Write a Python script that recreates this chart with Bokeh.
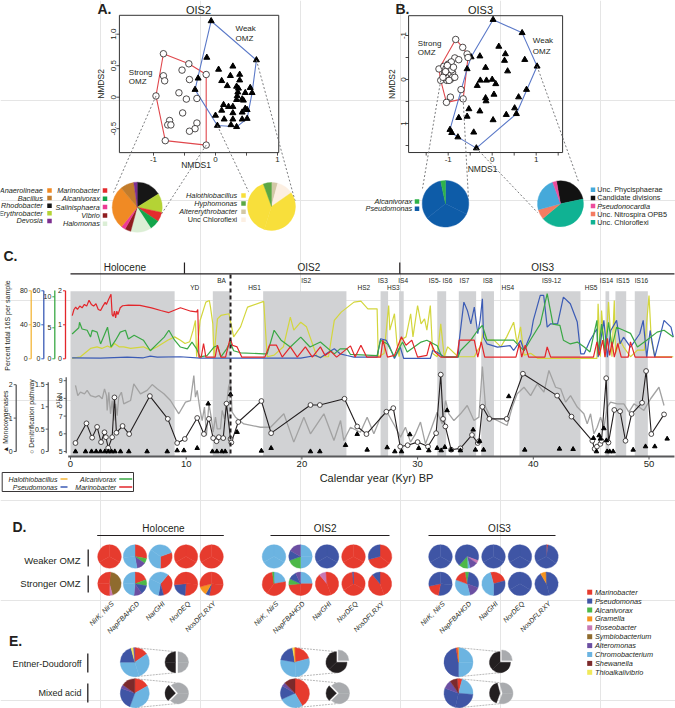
import math
from bokeh.plotting import figure
from bokeh.models import Range1d
from bokeh.core.properties import value
from bokeh.embed import file_html
from bokeh.resources import INLINE

# ===================== DATA =====================
# ---- Panel A: NMDS of OIS2 samples ----
A_strong_nmds1 = [-0.84, -0.43, -0.54, -0.15, -0.84, -0.82, -0.42, -0.96, -0.59, -0.47,
                  -0.30, -0.53, -0.74, -0.77, -0.72, -0.30, -0.33, -0.42, -0.81, -0.15]
A_strong_nmds2 = [0.69, 0.53, 0.43, 0.36, 0.34, 0.26, 0.28, 0.02, 0.07, -0.03,
                  -0.02, -0.25, -0.37, -0.44, -0.44, -0.41, -0.50, -0.54, -0.69, -0.76]
A_weak_nmds1 = [-0.07, 0.66, -0.14, 0.28, 0.05, 0.24, 0.39, -0.28, 0.10, 0.39,
                0.19, 0.34, -0.33, 0.56, 0.37, 0.36, 0.48, 0.59, 0.35, 0.43,
                0.34, 0.45, 0.13, 0.21, 0.10, 0.28, 0.48, 0.43, 0.28, 0.51,
                0.00, 0.14, 0.28, 0.43, 0.51, 0.03, 0.25, 0.34]
A_weak_nmds2 = [1.21, 0.59, 0.63, 0.49, 0.44, 0.34, 0.36, 0.30, 0.26, 0.27,
                0.18, 0.17, 0.12, 0.15, 0.14, 0.08, 0.07, 0.07, 0.02, -0.03,
                -0.04, -0.05, -0.12, -0.15, -0.21, -0.15, -0.18, -0.24, -0.25, -0.20,
                -0.29, -0.35, -0.35, -0.35, -0.34, -0.45, -0.44, -0.47]
A_pie_strong = [("Rhodobacter", 58), ("Erythrobacter", 44), ("Marinobacter", 22), ("Alcanivorax", 23),
                ("Halomonas", 48), ("Vibrio", 14), ("Salinisphaera", 10), ("Anaerolineae", 101),
                ("Bacillus", 32), ("Devosia", 8)]
A_pie_weak = [("Altererythrobacter", 15), ("Unc Chloroflexi", 40), ("Halothiobacillus", 285), ("Hyphomonas", 20)]
A_legend_left1 = ["Anaerolineae", "Bacillus", "Rhodobacter", "Erythrobacter", "Devosia"]
A_legend_left2 = ["Marinobacter", "Alcanivorax", "Salinisphaera", "Vibrio", "Halomonas"]
A_legend_right = ["Halothiobacillus", "Hyphomonas", "Altererythrobacter", "Unc Chloroflexi"]

# ---- Panel B: NMDS of OIS3 samples ----
B_strong_nmds1 = [-0.83, -0.67, -0.57, -0.85, -0.76, -0.55, -1.21, -1.17, -1.03, -0.71, -0.66, -0.95, -1.04,
                  -1.10, -1.05, -1.00, -0.95, -0.90, -1.00, -1.05, -0.95, -0.90, -1.00, -0.93, -1.08,
                  -0.98, -0.85, -1.12, -1.00, -0.92, -1.02, -0.88, -1.06]
B_strong_nmds2 = [-0.91, -0.73, -0.58, -0.49, -0.45, -0.50, -0.24, 0.02, 0.02, 0.23, 0.44, 0.40, 0.52,
                  -0.30, -0.25, -0.20, -0.30, -0.15, -0.10, -0.05, 0.00, -0.05, -0.35, -0.40, -0.15,
                  0.02, -0.05, -0.05, -0.25, -0.22, -0.32, -0.28, -0.18]
B_weak_nmds1 = [0.02, 0.68, 1.02, 0.74, 0.15, 0.30, 0.28, 0.35, -0.28, -0.48,
                -0.15, -0.57, -0.27, -0.13, 0.00, -0.34, 0.08, 0.04, -0.15, -0.14,
                0.60, 0.78, -0.53, -0.28, 0.51, 0.55, -0.57, -0.76, 0.32, 0.02,
                -0.96, -0.92, -0.42, -0.78, -0.36]
B_weak_nmds2 = [-1.36, -1.06, -0.30, -0.45, -0.75, -0.58, -0.43, -0.19, -0.53, -0.51,
                -0.27, -0.24, 0.02, 0.02, 0.00, 0.14, 0.10, 0.34, 0.42, 0.49,
                0.40, 0.23, 0.67, 0.72, 0.65, 0.78, 0.84, 0.87, 0.80, 0.92,
                1.14, 1.21, 1.20, 1.31, 1.56]
B_pie_strong = [("Pseudomonas", 348), ("Alcanivorax", 12)]
B_pie_weak = [("Candidate divisions", 88), ("Unc. Chloroflexi", 152), ("Unc. Nitrospira OPB5", 25),
              ("Unc. Phycisphaerae", 85), ("Pseudonocardia", 10)]
B_legend_left = ["Alcanivorax", "Pseudomonas"]
B_legend_right = ["Unc. Phycisphaerae", "Candidate divisions", "Pseudonocardia", "Unc. Nitrospira OPB5", "Unc. Chloroflexi"]

# ---- Panel C: down-core time series (kyr BP, % of 16S) ----
halothiobacillus = [(0.14, 0.4), (0.86, 2.4), (1.73, 12.2), (2.3, 14.1), (2.7, 12.2), (3.2, 15.0), (3.5, 13.0),
    (3.8, 18.0), (4.2, 14.1), (4.6, 14.1), (5.2, 12.2), (6.3, 14.1), (6.9, 10.2), (7.5, 14.1), (8.4, 21.9),
    (9.0, 25.8), (9.5, 21.9), (9.9, 18.0), (10.3, 20.0), (10.6, 33.7), (10.8, 45.1), (10.9, 2.4), (11.2, 45.1),
    (11.7, 66.7), (12.0, 68.6), (12.1, 60.8), (12.3, 41.1), (12.4, 2.4), (12.7, 47.0), (13.0, 51.0), (13.7, 53.0),
    (14.1, 25.8), (14.7, 37.6), (15.3, 60.8), (16.7, 67.5), (17.0, 2.4), (17.6, 4.3), (18.4, 14.1), (19.0, 49.0),
    (19.3, 33.7), (19.9, 43.1), (20.4, 37.6), (21.3, 2.4), (22.3, 2.4), (22.8, 45.1), (23.4, 54.9), (24.5, 66.7),
    (25.1, 67.9), (25.7, 58.8), (26.5, 58.8), (26.6, 2.4), (27.1, 6.3), (27.5, 62.7), (27.6, 33.7), (28.0, 53.0),
    (28.2, 20.0), (28.4, 2.4), (28.5, 21.9), (29.0, 25.8), (29.4, 53.0), (29.6, 25.8), (30.0, 62.7), (30.3, 41.1),
    (30.6, 47.0), (30.8, 33.7), (31.1, 62.7), (31.3, 6.3), (31.7, 2.4), (32.0, 41.1), (32.3, 2.4), (32.6, 14.1),
    (33.5, 2.4), (34.9, 2.4), (35.2, 10.2), (35.4, 14.1), (35.7, 31.7), (36.0, 21.9), (36.6, 21.9), (37.2, 14.1),
    (37.7, 25.8), (38.3, 43.1), (38.6, 18.0), (38.9, 37.6), (39.2, 4.3), (39.8, 6.3), (40.4, 0.4), (45.5, 0.4),
    (45.6, 64.7), (45.8, 2.4), (45.9, 56.9), (46.2, 2.4), (46.5, 66.7), (46.8, 2.4), (47.0, 68.6), (47.1, 6.3),
    (47.5, 21.9), (47.8, 14.1), (48.4, 2.4), (49.0, 10.2), (49.6, 10.2), (50.0, 74.5), (50.2, 21.9), (50.5, 2.4),
    (52.1, 2.4)]
pseudomonas = [(0.14, 0.9), (2.6, 0.6), (4.9, 1.5), (6.3, 0.9), (6.9, 2.3), (7.5, 1.5), (9.5, 1.8), (11.2, 0.6),
    (14.1, 0.6), (17.0, 0.6), (19.9, 0.6), (21.2, 2.9), (21.6, 0.9), (22.3, 5.8), (22.8, 8.8), (23.3, 4.4),
    (23.9, 2.9), (24.5, 1.5), (26.5, 1.5), (26.8, 17.7), (27.3, 16.2), (27.6, 10.3), (28.0, 0.3), (28.5, 10.3),
    (28.8, 0.3), (31.1, 0.3), (31.3, 7.3), (31.7, 5.8), (32.3, 1.5), (33.5, 1.5), (33.6, 16.2), (34.0, 50.0),
    (34.3, 42.7), (34.6, 30.9), (34.9, 45.6), (35.2, 22.1), (35.4, 33.9), (35.6, 53.0), (35.7, 19.1), (36.0, 13.2),
    (36.9, 10.3), (38.0, 11.7), (38.3, 7.3), (38.9, 16.2), (39.2, 7.3), (39.8, 22.1), (40.0, 33.9), (40.6, 55.9),
    (40.9, 55.9), (41.2, 28.0), (41.5, 30.9), (42.1, 30.9), (42.6, 54.4), (43.2, 48.6), (43.8, 32.4), (44.1, 4.4),
    (44.4, 4.4), (44.9, 16.2), (45.5, 26.5), (45.6, 1.5), (46.1, 33.9), (46.4, 1.5), (46.7, 25.0), (47.2, 33.9),
    (47.5, 13.2), (47.8, 19.1), (48.4, 10.3), (49.2, 22.1), (49.5, 33.9), (49.8, 1.5), (50.1, 25.0), (50.5, 1.5),
    (51.3, 33.9), (51.9, 28.0), (52.1, 19.1)]
alcanivorax = [(0.14, 4.0), (0.72, 5.0), (0.78, 5.9), (1.0, 4.8), (1.44, 4.6), (1.73, 3.5), (1.87, 4.6), (2.3, 4.3),
    (2.6, 2.4), (3.2, 5.1), (3.5, 1.9), (3.9, 3.0), (4.3, 4.3), (4.75, 4.6), (5.0, 3.2), (5.5, 3.8), (6.3, 3.0),
    (6.9, 1.3), (7.5, 2.4), (8.1, 3.5), (8.5, 4.6), (9.0, 3.0), (9.5, 1.9), (10.1, 1.6), (10.5, 2.7), (10.9, 1.6),
    (11.2, 0.3), (11.8, 0.5), (12.4, 1.9), (12.7, 2.1), (13.0, 0.3), (13.5, 1.6), (13.8, 2.7), (14.1, 1.3),
    (14.7, 0.97), (16.7, 0.8), (17.0, 0.8), (17.6, 4.6), (18.2, 3.0), (19.0, 1.9), (19.9, 3.5), (20.7, 1.9),
    (21.6, 2.7), (22.8, 0.8), (23.3, 1.6), (23.9, 1.6), (24.2, 0.7), (26.5, 0.5), (26.8, 3.0), (27.4, 2.4),
    (28.0, 0.3), (28.7, 2.7), (29.1, 1.1), (29.7, 1.9), (30.3, 2.7), (30.8, 3.0), (31.7, 2.1), (32.1, 0.3),
    (33.5, 0.3), (33.7, 1.3), (34.6, 3.0), (35.2, 4.6), (35.6, 5.4), (36.0, 3.0), (36.6, 3.0), (38.3, 3.0),
    (38.6, 2.4), (39.2, 1.3), (39.8, 3.2), (40.6, 5.6), (41.2, 10.5), (41.7, 5.6), (42.3, 5.4), (42.6, 3.0),
    (43.2, 2.4), (43.8, 2.7), (44.4, 1.9), (44.9, 1.1), (45.5, 6.2), (45.6, 0.8), (45.9, 5.6), (46.2, 1.3),
    (46.5, 5.9), (46.8, 1.9), (47.2, 5.1), (47.8, 4.6), (48.4, 4.1), (49.0, 1.9), (49.8, 3.0), (50.7, 4.3),
    (51.3, 4.6), (52.1, 3.5)]
marinobacter = [(0.15, 1.27), (0.3, 1.45), (0.45, 1.52), (0.6, 1.45), (0.8, 1.55), (1.0, 1.5), (1.2, 1.6),
    (1.4, 1.55), (1.6, 1.72), (1.8, 1.6), (2.0, 1.55), (2.2, 1.62), (2.4, 1.45), (2.6, 1.42), (2.8, 1.55),
    (3.0, 1.66), (3.1, 1.6), (3.3, 1.75), (3.5, 1.9), (3.6, 1.3), (3.7, 1.25), (3.8, 1.4), (3.9, 1.2), (4.0, 1.4),
    (4.1, 1.3), (4.3, 1.5), (4.5, 1.56), (5.0, 1.58), (6.0, 1.57), (7.0, 1.5), (7.8, 1.42), (8.5, 1.36),
    (9.5, 1.5), (10.4, 1.4), (10.9, 1.38), (11.0, 1.45), (11.1, 0.05), (11.3, 0.05), (11.5, 0.45), (11.7, 0.05),
    (12.2, 0.05), (12.5, 0.05), (12.7, 0.4), (13.0, 0.05), (13.4, 0.05), (13.8, 0.6), (14.0, 0.4), (14.4, 0.35),
    (14.8, 0.05), (16.8, 0.05), (17.2, 0.4), (17.8, 0.4), (18.3, 0.05), (19.0, 0.35), (19.6, 0.05), (20.3, 0.35),
    (20.9, 0.05), (21.6, 0.35), (22.0, 0.1), (22.5, 0.22), (23.0, 0.05), (24.2, 0.38), (24.6, 0.05), (25.1, 0.4),
    (25.6, 0.05), (26.8, 0.05), (27.0, 0.55), (27.4, 0.05), (28.0, 0.1), (28.6, 0.65), (29.0, 0.4), (29.5, 0.55),
    (30.0, 0.05), (30.8, 0.1), (31.1, 0.5), (31.5, 0.2), (32.0, 0.05), (33.4, 0.05), (33.6, 0.55), (34.9, 0.55),
    (35.2, 0.05), (35.5, 0.5), (35.8, 0.05), (36.3, 0.05), (38.5, 0.05), (38.8, 0.45), (39.0, 0.05), (39.3, 0.4),
    (39.6, 0.05), (41.0, 0.05), (41.2, 0.35), (41.5, 0.05), (45.2, 0.05), (45.5, 0.5), (45.7, 0.1), (46.0, 0.55),
    (46.2, 0.05), (46.4, 0.6), (46.6, 0.1), (46.8, 0.5), (47.0, 0.05), (47.3, 0.45), (47.6, 0.05), (48.2, 0.05),
    (48.4, 0.5), (48.8, 0.05), (52.0, 0.05)]
delta15n = [(0.43, 8.73), (0.63, 8.16), (0.86, 8.35), (1.21, 8.26), (1.44, 8.45), (1.73, 8.16), (2.16, 8.07),
    (2.45, 8.16), (2.74, 7.98), (2.94, 8.54), (3.11, 8.16), (3.17, 7.32), (3.31, 8.35), (3.46, 7.13), (3.6, 7.88),
    (3.75, 6.75), (3.9, 7.69), (4.03, 7.03), (4.17, 8.07), (4.4, 8.35), (4.6, 7.69), (4.9, 7.79), (5.19, 7.88),
    (5.47, 8.82), (6.05, 8.26), (6.62, 8.45), (7.06, 8.78), (7.49, 8.54), (8.07, 8.26), (8.64, 7.88), (9.36, 7.13),
    (9.94, 7.79), (10.37, 7.88), (10.66, 9.29), (10.8, 8.07), (10.95, 8.45), (11.18, 7.41), (11.38, 6.75),
    (11.58, 7.51), (11.75, 5.9), (11.96, 7.69), (12.16, 6.94), (12.33, 6.09), (12.53, 6.94), (12.68, 6.28),
    (12.96, 6.28), (13.11, 7.32), (13.31, 6.84), (13.48, 7.6), (13.66, 8.63), (13.83, 9.01), (13.97, 7.22),
    (14.26, 6.94), (14.98, 6.56), (16.42, 6.37), (17.29, 6.37), (18.44, 7.13), (19.3, 5.53), (20.17, 6.94),
    (20.74, 6.0), (21.9, 7.13), (22.77, 5.62), (23.34, 6.75), (23.62, 5.62), (24.2, 6.37), (25.06, 6.09),
    (25.64, 6.94), (26.22, 6.0), (26.8, 6.94), (27.37, 7.22), (28.09, 6.37), (28.52, 5.81), (28.95, 6.37),
    (29.39, 5.53), (29.82, 6.0), (30.25, 6.66), (30.68, 5.43), (31.12, 6.19), (31.69, 7.22), (32.13, 6.56),
    (32.42, 7.88), (32.7, 7.13), (33.14, 6.75), (33.71, 7.13), (34.29, 7.6), (34.87, 6.75), (35.3, 6.94),
    (35.6, 9.8), (35.87, 7.51), (36.3, 6.94), (36.88, 6.75), (37.74, 6.47), (38.18, 7.51), (38.61, 8.26),
    (39.19, 8.63), (39.77, 8.16), (40.34, 8.82), (40.92, 8.35), (41.35, 9.58), (41.93, 8.63), (42.36, 8.54),
    (42.79, 7.79), (43.22, 8.16), (43.8, 7.51), (44.37, 7.13), (44.66, 6.56), (44.95, 7.13), (45.24, 6.0),
    (45.52, 6.37), (45.81, 6.94), (46.1, 6.37), (46.39, 7.51), (46.68, 7.79), (47.25, 7.69), (47.83, 7.69),
    (48.26, 7.22), (48.7, 7.69), (49.13, 7.51), (49.56, 7.32), (50.14, 7.98), (50.86, 8.63), (51.3, 7.6)]
denitrification = [(0.43, 0.19), (1.38, 0.63), (1.87, 0.31), (2.3, 0.55), (2.64, 0.21), (2.94, 0.43), (3.06, 0.32),
    (3.26, 0.08), (3.6, 0.32), (3.8, 1.21), (3.97, 0.42), (4.5, 0.57), (5.07, 0.39), (6.86, 1.24), (8.41, 0.73),
    (9.22, 0.19), (9.88, 0.28), (10.95, 0.75), (11.53, 0.39), (11.96, 0.73), (12.33, 0.3), (12.62, 0.23),
    (12.82, 0.32), (13.2, 0.3), (13.48, 1.07), (13.83, 0.28), (13.9, 0.2), (14.5, 0.66), (16.5, 1.13),
    (17.34, 0.41), (20.74, 1.04), (21.55, 1.04), (23.68, 1.18), (24.78, 0.56), (25.58, 0.39), (27.3, 0.89),
    (27.9, 0.97), (28.5, 0.11), (29.14, 0.14), (30.0, 0.21), (30.9, 0.11), (31.6, 0.41), (32.0, 1.72),
    (32.2, 0.73), (32.4, 0.56), (32.9, 0.04), (33.7, 0.07), (34.7, 0.37), (35.2, 0.19), (35.3, 0.23), (35.6, 1.0),
    (36.2, 0.73), (37.7, 0.73), (39.1, 1.74), (42.06, 1.25), (43.3, 0.78), (45.1, 0.24), (45.3, 0.06),
    (45.5, 0.11), (45.8, 0.17), (45.9, 0.24), (46.3, 1.64), (46.5, 0.2), (47.0, 0.93), (47.5, 0.9), (47.97, 0.24),
    (48.5, 0.84), (49.4, 1.09), (49.75, 1.8), (50.2, 0.39), (51.3, 0.83)]
monooxygenases = [(0.43, 0), (1.3, 0), (1.82, 0), (2.22, 0), (2.59, 0), (2.97, 0), (3.26, 0), (3.54, 0), (3.83, 0),
    (4.32, 0), (5.04, 0), (6.62, 0), (8.36, 0), (9.22, 0.03), (9.8, 0.03), (10.95, 0.1), (11.9, 1.43), (12.27, 0),
    (12.65, 0), (13.08, 0), (13.37, 0), (13.83, 1.71), (14.4, 0.58), (16.5, 0.02), (17.34, 0.1), (20.74, 0),
    (21.55, 0), (23.77, 0.19), (24.78, 0.52), (25.64, 0.05), (27.37, 0.12), (28.03, 0), (28.61, 0), (29.33, 0.51),
    (30.1, 0.1), (30.97, 0.03), (31.69, 0.1), (32.04, 0.03), (32.35, 0.13), (32.55, 1.23), (32.9, 0.05),
    (33.7, 0.03), (34.8, 0.65), (35.0, 0.05), (35.35, 0.31), (35.7, 0.05), (37.88, 1.65), (39.26, 0.05),
    (42.26, 0.08), (43.44, 0.07), (45.2, 0.4), (45.46, 0), (45.69, 0.48), (45.8, 0.38), (46.1, 0.69),
    (46.32, 0.33), (46.38, 0), (46.6, 0), (46.9, 0), (48.63, 0.05), (49.7, 0.15), (50.5, 0.15), (51.57, 0.38)]
stadial_bands = [(0, 9.0), (12.3, 13.8), (16.65, 23.85), (26.8, 27.45), (28.4, 28.8), (31.7, 32.47),
                 (33.56, 35.06), (35.5, 36.6), (38.8, 44.08), (46.24, 46.56), (47.1, 48.03), (48.77, 49.9)]
event_labels = [("YD", 10.74, 0), ("BA", 13.05, 1), ("HS1", 15.9, 0), ("IS2", 20.37, 1), ("HS2", 25.35, 0),
                ("IS3", 27.0, 1), ("HS3", 27.9, 0), ("IS4", 28.75, 1), ("IS5- IS6", 31.98, 1), ("IS7", 34.05, 1),
                ("IS8", 36.07, 1), ("HS4", 37.8, 0), ("IS9-12", 41.57, 1), ("HS5", 45.0, 0), ("IS14", 46.33, 1),
                ("IS15", 47.74, 1), ("IS16", 49.35, 1)]
period_bounds = [9.85, 28.46]
period_labels = [("Holocene", 4.7), ("OIS2", 20.6), ("OIS3", 40.8)]
bolling_onset = 13.83
time_ticks = [0, 10, 20, 30, 40, 50]

# ---- Panel D: taxonomic composition of denitrification genes (start angle, [(taxon, degrees)]) ----
genes = ["NirK, NirS", "NapFBAHGD", "NarGHI", "NorDEQ", "NosDFLRXY"]
D_holocene_weaker = [(0, [("Marinobacter", 360)]),
    (0, [("Marinobacter", 100), ("Alcanivorax", 25), ("Alteromonas", 45), ("Chromobacterium", 190)]),
    (70, [("Marinobacter", 110), ("Chromobacterium", 250)]),
    (0, [("Marinobacter", 360)]), (0, [("Marinobacter", 360)])]
D_holocene_stronger = [(5, [("Symbiobacterium", 160), ("Roseobacter", 15), ("Marinobacter", 185)]),
    (0, [("Marinobacter", 70), ("Alcanivorax", 30), ("Pseudomonas", 45), ("Alteromonas", 40), ("Chromobacterium", 175)]),
    (40, [("Marinobacter", 125), ("Pseudomonas", 25), ("Chromobacterium", 210)]),
    (0, [("Marinobacter", 185), ("Pseudomonas", 80), ("Marinobacter", 95)]),
    (0, [("Marinobacter", 190), ("Pseudomonas", 20), ("Gramella", 45), ("Marinobacter", 105)])]
D_ois2_weaker = [(0, [("Chromobacterium", 360)]),
    (0, [("Chromobacterium", 180), ("Alcanivorax", 70), ("Pseudomonas", 50), ("Alteromonas", 60)]),
    (0, [("Pseudomonas", 360)]), (0, [("Marinobacter", 360)]),
    (0, [("Marinobacter", 255), ("Pseudomonas", 105)])]
D_ois2_stronger = [(0, [("Chromobacterium", 80), ("Marinobacter", 272), ("Alcanivorax", 8)]),
    (0, [("Chromobacterium", 90), ("Marinobacter", 175), ("Alcanivorax", 30), ("Pseudomonas", 40), ("Alteromonas", 25)]),
    (0, [("Marinobacter", 320), ("Roseobacter", 35), ("Marinobacter", 5)]),
    (0, [("Marinobacter", 355), ("Pseudomonas", 5)]),
    (0, [("Marinobacter", 320), ("Pseudomonas", 40)])]
D_ois3_weaker = [(0, [("Pseudomonas", 360)]),
    (0, [("Pseudomonas", 110), ("Roseobacter", 15), ("Alteromonas", 40), ("Chromobacterium", 12), ("Alcanivorax", 45), ("Pseudomonas", 138)]),
    (0, [("Pseudomonas", 360)]), (0, [("Pseudomonas", 360)]),
    (0, [("Marinobacter", 8), ("Pseudomonas", 352)])]
D_ois3_stronger = [(0, [("Pseudomonas", 190), ("Marinobacter", 68), ("Pseudomonas", 102)]),
    (350, [("Alcanivorax", 20), ("Pseudomonas", 100), ("Alteromonas", 55), ("Chromobacterium", 125), ("Marinobacter", 60)]),
    (345, [("Marinobacter", 90), ("Pseudomonas", 105), ("Chromobacterium", 165)]),
    (0, [("Pseudomonas", 360)]),
    (0, [("Pseudomonas", 330), ("Gramella", 28), ("Pseudomonas", 2)])]
D_legend = ["Marinobacter", "Pseudomonas", "Alcanivorax", "Gramella", "Roseobacter", "Symbiobacterium",
            "Alteromonas", "Chromobacterium", "Shewanella", "Thioalkalivibrio"]

# ---- Panel E: fermentation pathways ----
E_ed_holocene = (0, [("Marinobacter", 55), ("Chromobacterium", 215), ("Pseudomonas", 75), ("Thioalkalivibrio", 10), ("Alteromonas", 5)])
E_ma_holocene = (0, [("Marinobacter", 60), ("Chromobacterium", 140), ("Pseudomonas", 90), ("Alteromonas", 15), ("Shewanella", 55)])
E_ed_ois2 = (0, [("Marinobacter", 75), ("Chromobacterium", 205), ("Pseudomonas", 70), ("Thioalkalivibrio", 6), ("Gramella", 4)])
E_ma_ois2 = (0, [("Marinobacter", 150), ("Chromobacterium", 95), ("Pseudomonas", 55), ("Alteromonas", 15), ("Shewanella", 45)])
E_ed_ois3 = (0, [("Chromobacterium", 180), ("Pseudomonas", 170), ("Marinobacter", 7), ("Gramella", 3)])
E_ma_ois3 = (355, [("Marinobacter", 20), ("Chromobacterium", 80), ("Pseudomonas", 195), ("Alteromonas", 35), ("Shewanella", 30)])
E_share_ed_holocene = (0, [("rest", 180), ("pathway", 180)])
E_share_ma_holocene = (225, [("pathway", 95), ("rest", 265)])
E_share_ed_ois2 = (0, [("rest", 90), ("pathway", 270)])
E_share_ma_ois2 = (225, [("pathway", 90), ("rest", 270)])
E_share_ed_ois3 = (0, [("rest", 90), ("pathway", 270)])
E_share_ma_ois3 = (200, [("pathway", 145), ("rest", 215)])

# ===================== STYLE =====================
COL = {
    "Anaerolineae": "#f08a24", "Bacillus": "#c27c2c", "Rhodobacter": "#161616", "Erythrobacter": "#b4d335",
    "Devosia": "#7d2f90", "Marinobacter": "#e42b2e", "Alcanivorax": "#13a54b", "Salinisphaera": "#ec3a95",
    "Vibrio": "#8f1d1f", "Halomonas": "#dbeed5", "Halothiobacillus": "#f8df3b", "Hyphomonas": "#5ba744",
    "Altererythrobacter": "#d2c8a6", "Unc Chloroflexi": "#fcefe2",
}
COLB = {"Pseudomonas": "#0e5ca8", "Alcanivorax": "#2fb34a", "Unc. Phycisphaerae": "#45a9da",
        "Candidate divisions": "#121212", "Pseudonocardia": "#ec4d9c", "Unc. Nitrospira OPB5": "#f47c62",
        "Unc. Chloroflexi": "#10b293"}
COLD = {"Marinobacter": "#e63b2e", "Pseudomonas": "#3f55a5", "Alcanivorax": "#4db848", "Gramella": "#f7941e",
        "Roseobacter": "#c879b4", "Symbiobacterium": "#8f6b2e", "Alteromonas": "#6b4fa2",
        "Chromobacterium": "#6cb4e1", "Shewanella": "#7c2a2b", "Thioalkalivibrio": "#f0e95a",
        "pathway": "#231f20", "rest": "#a9abae"}
FONT = "Liberation Sans"

W, H = 675, 708
OX, OY = 0, 0

p = figure(width=W, height=H, x_range=Range1d(OX, OX + W), y_range=Range1d(-(OY + H), -OY),
           output_backend="svg", toolbar_location=None, min_border=0,
           x_axis_location=None, y_axis_location=None)
p.outline_line_color = None
p.background_fill_color = "white"
p.border_fill_color = "white"


def xr(X0, k):
    return Range1d((OX - X0) / k, (OX + W - X0) / k)


def yr(Y0, k):  # pixel Y = Y0 - k * v
    return Range1d((Y0 - (OY + H)) / k, (Y0 - OY) / k)


# panel geometry (pixel position of data origin and pixels per unit)
A_X0, A_KX, A_Y0, A_KY = 215.0, 62.0, 96.7, 63.0
B_X0, B_KX, B_Y0, B_KY = 491.7, 44.0, 79.0, -44.0
C_X0, C_KX = 70.0, 11.57
C_BASE = 358.3
C_SCALE = {"hal": 68 / 80, "pse": 68 / 60, "alc": 6.2, "mar": 34.0}
D15_Y0, D15_K = 451 + 17.7 * 5, 17.7
DEN_K, MONO_K, C_BOT = 44.7, 33.4, 451.0

p.extra_x_ranges = {"Ax": xr(A_X0, A_KX), "Bx": xr(B_X0, B_KX), "Ct": xr(C_X0, C_KX)}
p.extra_y_ranges = {"Ay": yr(A_Y0, A_KY), "By": yr(B_Y0, B_KY),
                    "hal": yr(C_BASE, C_SCALE["hal"]), "pse": yr(C_BASE, C_SCALE["pse"]),
                    "alc": yr(C_BASE, C_SCALE["alc"]), "mar": yr(C_BASE, C_SCALE["mar"]),
                    "d15": yr(D15_Y0, D15_K), "den": yr(C_BOT, DEN_K), "mono": yr(C_BOT, MONO_K)}


def T(x, y, s, size=8, align="center", base="middle", angle=0.0, style="normal", color="#231f20",
      xrn="default", yrn=None, font=FONT):
    yy = -y if yrn is None else y
    p.text(x=[x], y=[yy], text=[s], text_font=value(font), text_font_size=f"{size}px",
           text_align=align, text_baseline=base, angle=angle, text_font_style=style,
           text_color=color, x_range_name=xrn, y_range_name=yrn or "default")


def S(x0, y0, x1, y1, color="#231f20", width=1.0, dash="solid", xrn="default", yrn=None):
    if yrn is None:
        y0, y1 = -y0, -y1
    p.segment(x0=[x0], y0=[y0], x1=[x1], y1=[y1], line_color=color, line_width=width,
              line_dash=dash, x_range_name=xrn, y_range_name=yrn or "default")


def pie(cx, cy, r, start, slices, colors, explode=0.0):
    xs, ys, sa, ea, fc = [], [], [], [], []
    a = start
    for name, deg in slices:
        ox = oy = 0.0
        if explode and name == "rest":
            mid = math.radians(a + deg / 2)
            ox, oy = explode * math.sin(mid), explode * math.cos(mid)
        n = int(math.ceil(deg / 170.0))
        for i in range(n):
            t1 = a + deg * i / n
            t2 = a + deg * (i + 1) / n
            xs.append(cx + ox); ys.append(-cy + oy)
            sa.append(math.radians(90 - t2)); ea.append(math.radians(90 - t1))
            fc.append(colors[name])
        a += deg
    p.wedge(x=xs, y=ys, radius=r, start_angle=sa, end_angle=ea, direction="anticlock",
            fill_color=fc, line_color=fc, line_width=0.4)


def hull(xs, ys):
    pts = sorted(set(zip(xs, ys)))

    def cross(o, a, b):
        return (a[0] - o[0]) * (b[1] - o[1]) - (a[1] - o[1]) * (b[0] - o[0])
    lower, upper = [], []
    for q in pts:
        while len(lower) >= 2 and cross(lower[-2], lower[-1], q) <= 0:
            lower.pop()
        lower.append(q)
    for q in reversed(pts):
        while len(upper) >= 2 and cross(upper[-2], upper[-1], q) <= 0:
            upper.pop()
        upper.append(q)
    h = lower[:-1] + upper[:-1]
    h.append(h[0])
    return [q[0] for q in h], [q[1] for q in h]


# ===================== PANELS A & B =====================
def nmds_panel(tag, X0, KX, Y0, KY, xlim, ylim, strong, weak, xticks, xlabels, yticks, ylabels,
               title, letter, letter_x, title_x, ylab_x, yticklab_x, xlab_y, strong_lbl, weak_lbl):
    xn, yn = tag + "x", tag + "y"
    top_px, bot_px = Y0 - KY * ylim[1], Y0 - KY * ylim[0]
    left_px = X0 + KX * xlim[0]
    hx, hy = hull(*strong)
    p.line(hx, hy, line_color="#e0474c", line_width=1.1, x_range_name=xn, y_range_name=yn)
    hx, hy = hull(*weak)
    p.line(hx, hy, line_color="#5b79c8", line_width=1.1, x_range_name=xn, y_range_name=yn)
    p.scatter(x=weak[0], y=weak[1], marker="triangle", size=6, fill_color="black", line_color="black",
              x_range_name=xn, y_range_name=yn)
    p.scatter(x=strong[0], y=strong[1], marker="circle", size=6.5, fill_color="white", line_color="#231f20",
              line_width=0.8, x_range_name=xn, y_range_name=yn)
    p.quad(left=[xlim[0]], right=[xlim[1]], bottom=[min(ylim)], top=[max(ylim)], fill_color=None,
           line_color="#333333", line_width=1, x_range_name=xn, y_range_name=yn)
    for t in xticks:
        S(t, bot_px, t, bot_px + 3, xrn=xn, width=0.8)
    for t, lab in xlabels:
        T(t, bot_px + 6.5, lab, size=8, xrn=xn)
    for t in yticks:
        S(left_px, t, left_px - 3, t, yrn=yn, width=0.8)
    for t, lab in ylabels:
        T(yticklab_x, t, lab, size=8, angle=math.pi / 2, yrn=yn)
    T(X0 + KX * (xlim[0] + xlim[1]) / 2 - 3, xlab_y, "NMDS1", size=8.5)
    T(ylab_x, (top_px + bot_px) / 2, "NMDS2", size=8.5, angle=math.pi / 2)
    T(title_x, 9.5, title, size=11)
    T(letter_x, 0.5, letter, size=14, style="bold", align="left", base="top", font="Liberation Sans")
    for (sx, sy, s) in strong_lbl + weak_lbl:
        T(sx, sy, s, size=8, align="left")


nmds_panel("A", A_X0, A_KX, A_Y0, A_KY, (-1.55, 1.02), (-0.88, 1.30),
           (A_strong_nmds1, A_strong_nmds2), (A_weak_nmds1, A_weak_nmds2),
           [-1, -0.5, 0, 0.5, 1], [(-1, "-1"), (0, "0"), (1, "1")],
           [-0.5, 0, 0.5, 1.0], [(-0.5, "-0.5"), (0, "0"), (0.5, "0.5"), (1.0, "1.0")],
           "OIS2", "A.", 97, 198, 100, 112.5, 164.5,
           [(128.3, 71.7, "Strong"), (128.3, 81, "OMZ")], [(235, 28, "Weak"), (235, 38, "OMZ")])
nmds_panel("B", B_X0, B_KX, B_Y0, B_KY, (-1.9, 1.6), (1.66, -1.45),
           (B_strong_nmds1, B_strong_nmds2), (B_weak_nmds1, B_weak_nmds2),
           [-1.5, -1, -0.5, 0, 0.5, 1, 1.5], [(-1, "-1"), (0, "0"), (1, "1")],
           [-1, -0.5, 0, 0.5, 1, 1.5], [(-1, "-1"), (0, "0"), (1, "1")],
           "OIS3", "B.", 395, 480, 391, 402.5, 168.3,
           [(417.3, 43.3, "Strong"), (417.3, 52, "OMZ")], [(532.3, 40.3, "Weak"), (532.3, 50.8, "OMZ")])


def A_pix(a, b):
    return A_X0 + A_KX * a, A_Y0 - A_KY * b


def B_pix(a, b):
    return B_X0 + B_KX * a, B_Y0 - B_KY * b


DOT = "#6d6e71"
# zoom lines from the ordination to the pies
for (pt, end) in [(A_pix(-0.96, 0.02), (113, 192)), (A_pix(-0.15, -0.76), (160, 215)),
                  (A_pix(0.03, -0.45), (248, 191)), (A_pix(0.66, 0.59), (295, 202)),
                  (B_pix(-1.17, 0.02), (422, 188)), (B_pix(-0.66, 0.44), (468, 199)),
                  (B_pix(-0.36, 1.56), (537, 212)), (B_pix(1.02, -0.30), (578, 181))]:
    S(pt[0], pt[1], end[0], end[1], color=DOT, width=0.9, dash="2 2")

pie(136.7, 206.7, 25, 0, A_pie_strong, COL)
pie(271, 206, 24, 0, A_pie_weak, COL)
pie(445, 203.3, 23.3, 0, B_pie_strong, COLB)
pie(560, 203.3, 23, 350, B_pie_weak, COLB)

# legends of A and B
for i, name in enumerate(A_legend_left1):
    yy = 190 + 7.6 * i
    T(42.3, yy, name, size=7.3, align="right", style="italic")
    p.rect(x=[49], y=[-yy], width=4.5, height=4.5, fill_color=COL[name], line_color=None)
for i, name in enumerate(A_legend_left2):
    yy = 190 + 8.3 * i
    T(99.3, yy, name, size=7.3, align="right", style="italic")
    p.rect(x=[104.5], y=[-yy], width=4.5, height=4.5, fill_color=COL[name], line_color=None)
for i, name in enumerate(A_legend_right):
    yy = 195 + 8.1 * i
    T(236.7, yy, name, size=7.3, align="right", style="normal" if name.startswith("Unc") else "italic")
    p.rect(x=[243], y=[-yy], width=4.5, height=4.5, fill_color=COL[name], line_color=None)
for i, name in enumerate(B_legend_left):
    yy = 201 + 7.3 * i
    T(411.7, yy, name, size=7.3, align="right", style="italic")
    p.rect(x=[416.5], y=[-yy], width=4.5, height=4.5, fill_color=COLB[name], line_color=None)
for i, name in enumerate(B_legend_right):
    yy = 189.3 + 8.1 * i
    T(596.7, yy, name, size=7.3, align="left", style="italic" if name == "Pseudonocardia" else "normal")
    p.rect(x=[592.5], y=[-yy], width=4.5, height=4.5, fill_color=COLB[name], line_color=None)

# ===================== PANEL C =====================
T(3, 255, "C.", size=14, style="bold", align="left")
p.quad(left=[b[0] for b in stadial_bands], right=[b[1] for b in stadial_bands],
       bottom=[-456] * len(stadial_bands), top=[-290.7] * len(stadial_bands),
       fill_color="#d1d2d4", line_color=None, x_range_name="Ct")
# period header
S(0, 273.3, 52.2, 273.3, width=1.2, xrn="Ct")
for b in period_bounds:
    S(b, 262, b, 273.3, width=1.2, xrn="Ct")
for lab, t in period_labels:
    T(t, 267, lab, size=10, xrn="Ct")
for lab, t, hi in event_labels:
    T(t, 280 if hi else 287, lab, size=6.5, xrn="Ct")

LINE_COL = {"hal": "#d3d63c", "pse": "#3b5bb5", "alc": "#3aa845", "mar": "#e3262b"}
AXIS_COL = {"hal": "#f4b63a", "pse": "#3b5bb5", "alc": "#3aa845", "mar": "#e3262b"}
for key, series in [("hal", halothiobacillus), ("pse", pseudomonas), ("alc", alcanivorax), ("mar", marinobacter)]:
    p.line([t for t, _ in series], [v for _, v in series], line_color=LINE_COL[key], line_width=1.2,
           x_range_name="Ct", y_range_name=key)

# left axes of the upper part
for key, ax_x, top, ticks in [("hal", 30.7, 80, [0, 40, 80]), ("pse", 43.3, 60, [0, 30, 60]),
                              ("alc", 54.3, 11, [0, 5, 10]), ("mar", 65, 2, [0, 1, 2])]:
    S(ax_x, 0, ax_x, top, color=AXIS_COL[key], width=1.3, yrn=key)
    for t in ticks:
        S(ax_x - 2.5, t, ax_x, t, color=AXIS_COL[key], width=1, yrn=key)
        T(ax_x - 3.5, t, str(t), size=7, align="right", yrn=key)
T(6.7, 325, "Percent total 16S per sample", size=7, angle=math.pi / 2)

# lower part
p.line([t for t, _ in delta15n], [v for _, v in delta15n], line_color="#a2a2a2", line_width=1.3,
       x_range_name="Ct", y_range_name="d15")
p.line([t for t, _ in denitrification], [v for _, v in denitrification], line_color="#231f20", line_width=1.1,
       x_range_name="Ct", y_range_name="den")
p.scatter([t for t, _ in denitrification], [v for _, v in denitrification], marker="circle", size=4.8,
          fill_color="white", line_color="#231f20", line_width=0.8, x_range_name="Ct", y_range_name="den")
p.scatter([t for t, _ in monooxygenases], [v for _, v in monooxygenases], marker="triangle", size=4.5,
          fill_color="black", line_color="black", x_range_name="Ct", y_range_name="mono")
S(bolling_onset, 274, bolling_onset, 456, width=2, dash="4 3", xrn="Ct")

for key, ax_x, lo, hi, ticks in [("mono", 15.7, 0, 2, [(0, "0"), (1, "1"), (2, "2")]),
                                 ("den", 47.7, 0, 1.55, [(0, "0"), (0.5, "0.5"), (1, "1"), (1.5, "1.5")]),
                                 ("d15", 65.7, 4.9, 9.2, [(5, "5"), (6, "6"), (7, "7"), (8, "8"), (9, "9")])]:
    S(ax_x, lo, ax_x, hi, color="#58595b", width=1.3, yrn=key)
    for t, lab in ticks:
        S(ax_x - 2.5, t, ax_x, t, color="#58595b", width=1, yrn=key)
        T(ax_x - 3.5, t, lab, size=7, align="right", yrn=key)
T(5, 421, "\u25b2 Monooxygenases", size=6.8, angle=math.pi / 2)
T(30.5, 416, "\u25cb Denitrification pathway", size=6.8, angle=math.pi / 2)
T(58.5, 400, "\u03b4\u00b9\u2075N", size=8, angle=math.pi / 2)

# time axis
S(-0.2, 456, 52.2, 456, color="#58595b", width=2, xrn="Ct")
for t in time_ticks:
    S(t, 456, t, 459, color="#58595b", width=1, xrn="Ct")
    T(t, 463.5, str(t), size=9.5, xrn="Ct")
T(376, 477, "Calendar year (Kyr) BP", size=11)

# legend of the time series
p.quad(left=[1.7], right=[133], top=[-472], bottom=[-491], fill_color="white", line_color="#231f20", line_width=0.9)
for name, key, xx, yy in [("Halothiobacillus", "hal", 57, 478.5), ("Pseudomonas", "pse", 57, 486.5),
                          ("Alcanivorax", "alc", 115.7, 478.5), ("Marinobacter", "mar", 115.7, 486.5)]:
    T(xx, yy, name, size=7, align="right", style="italic")
    S(xx + 3, yy, xx + 10 if xx < 100 else xx + 16, yy, color=AXIS_COL[key], width=1.3)

# ===================== PANEL D =====================
T(12, 526, "D.", size=14, style="bold", align="left")
D_groups = [("Holocene", [109, 134.5, 160, 185.5, 211], 163, (96.7, 223.3), D_holocene_weaker, D_holocene_stronger),
            ("OIS2", [273.5, 300, 326.5, 353, 379.5], 324.6, (270, 389), D_ois2_weaker, D_ois2_stronger),
            ("OIS3", [440, 466.5, 493, 519.5, 546], 499, (428, 555), D_ois3_weaker, D_ois3_stronger)]
D_row_y = [556, 583.3]
for title, cols, tx, (l0, l1), weaker, stronger in D_groups:
    T(tx, 528, title, size=10)
    S(l0, 535, l1, 535, width=1.1)
    for i, cx in enumerate(cols):
        pie(cx, D_row_y[0], 11.7, weaker[i][0], weaker[i][1], COLD)
        pie(cx, D_row_y[1], 11.7, stronger[i][0], stronger[i][1], COLD)
        T(cx + 3, 602, genes[i], size=7, align="right", angle=math.pi / 4, style="italic")
T(80, 560, "Weaker OMZ", size=9.5, align="right")
T(80, 583.3, "Stronger OMZ", size=9.5, align="right")
S(87.7, 549, 87.7, 566, width=1.3)
S(87.7, 575, 87.7, 592, width=1.3)

for i, name in enumerate(D_legend):
    yy = 591.7 + 8.9 * i
    p.rect(x=[589.2], y=[-yy], width=5, height=5, fill_color=COLD[name], line_color=None)
    T(594.5, yy, name, size=7.3, align="left", style="italic")

# ===================== PANEL E =====================
T(8.5, 640, "E.", size=14, style="bold", align="left")
E_row_y = [661.7, 692.7]
E_big_x = [134.3, 294.5, 458]
E_small_x = [175, 336, 499.5]
E_big = [(E_ed_holocene, E_ma_holocene), (E_ed_ois2, E_ma_ois2), (E_ed_ois3, E_ma_ois3)]
E_small = [(E_share_ed_holocene, E_share_ma_holocene), (E_share_ed_ois2, E_share_ma_ois2),
           (E_share_ed_ois3, E_share_ma_ois3)]
RB, RS = 14.5, 10.5
for g in range(3):
    for r in range(2):
        cy = E_row_y[r]
        bx, sx = E_big_x[g], E_small_x[g]
        S(bx, cy - RB, sx, cy - RS, color="#9a9a9a", width=0.7, dash="2 1")
        S(bx, cy + RB, sx, cy + RS, color="#9a9a9a", width=0.7, dash="2 1")
        st, sl = E_big[g][r]
        pie(bx, cy, RB, st, sl, COLD)
        st, sl = E_small[g][r]
        pie(sx, cy, RS, st, sl, COLD, explode=2.5)
T(81, 663.3, "Entner-Doudoroff", size=9, align="right")
T(81, 692.7, "Mixed acid", size=9, align="right")
S(87.3, 653, 87.3, 672, width=1.3)
S(87.3, 683, 87.3, 702, width=1.3)

open("out.html", "w").write(file_html(p, INLINE))
